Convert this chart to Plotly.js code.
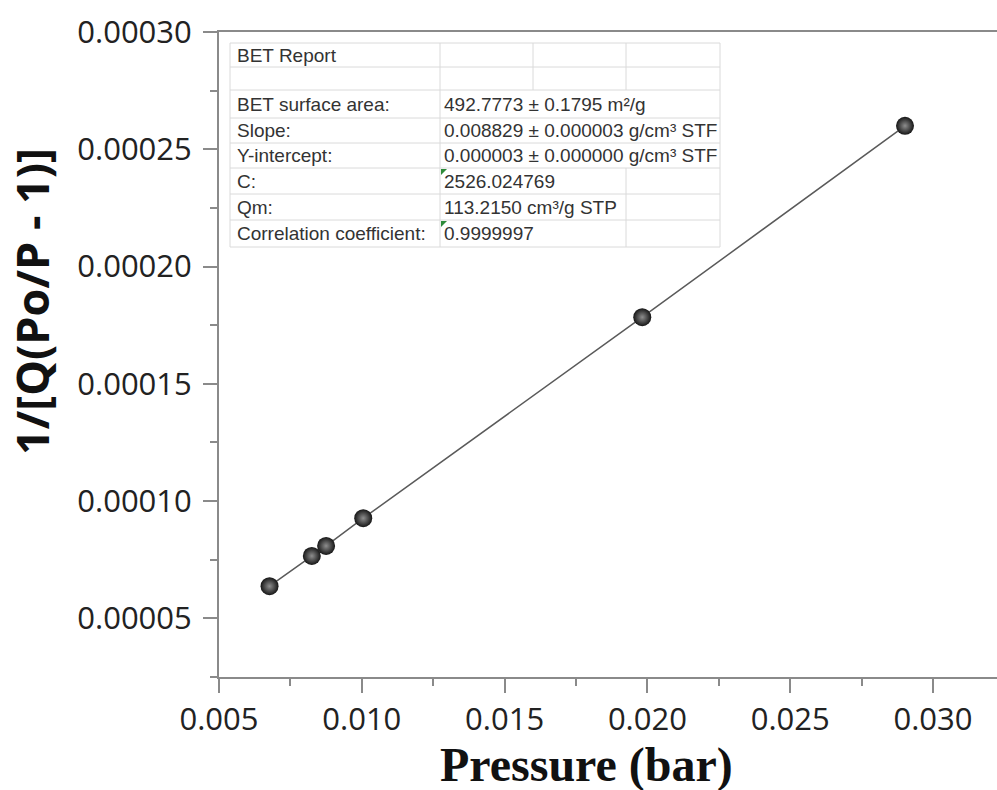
<!DOCTYPE html>
<html>
<head>
<meta charset="utf-8">
<script src="https://cdn.plot.ly/plotly-3.0.1.min.js"></script>
<style>
  html, body { margin: 0; padding: 0; background: #fff; }
  #chart { width: 997px; height: 790px; }
</style>
</head>
<body>
<div id="chart"></div>
<script>
// ---- data ----
const pressure = [0.00677, 0.00825, 0.00875, 0.01005, 0.01982, 0.02902];
const invQ     = [0.0000637, 0.0000766, 0.0000809, 0.0000927, 0.0001784, 0.0002600];

const reportLabels = ["BET Report", "", "BET surface area:", "Slope:", "Y-intercept:", "C:", "Qm:", "Correlation coefficient:"];
const reportValues = ["", "", "492.7773 ± 0.1795 m²/g", "0.008829 ± 0.000003 g/cm³ STF",
                      "0.000003 ± 0.000000 g/cm³ STF", "2526.024769", "113.2150 cm³/g STP", "0.9999997"];
const greenFlagRows = [5, 7];

const xTitle = "Pressure (bar)";
const yTitle = "1/[Q(Po/P - 1)]";

// ---- layout geometry (pixels) ----
const W = 997, H = 790;
const mL = 219, mR = 0, mT = 32, mB = 113;
const plotW = W - mL - mR, plotH = H - mT - mB;
const px = x => (x - mL) / plotW;
const py = y => (H - mB - y) / plotH;

const axisColor = '#8a8a8a';

const traces = [{
  x: pressure, y: invQ,
  type: 'scatter', mode: 'lines+markers',
  line: { color: '#5a5a5a', width: 1.5 },
  marker: { size: 18, color: '#151515',
            gradient: { type: 'radial', color: '#8e8e8e' },
            line: { width: 0 } },
  hoverinfo: 'x+y', showlegend: false
}];

// table geometry
const colX = [230, 440, 533, 626, 720];
const rowY = [43, 67, 90, 118, 143, 168, 194, 220, 247];
const gridColor = '#dadada';
const shapes = [];
shapes.push({ type: 'rect', xref: 'paper', yref: 'paper', x0: px(colX[0]), x1: px(colX[4]),
              y0: py(rowY[0]), y1: py(rowY[8]), fillcolor: '#ffffff', line: { width: 0 }, layer: 'above' });
rowY.forEach(y => shapes.push({ type: 'line', xref: 'paper', yref: 'paper',
  x0: px(colX[0]), x1: px(colX[4]), y0: py(y), y1: py(y), line: { color: gridColor, width: 1 }, layer: 'above' }));
[[colX[0], rowY[0], rowY[8]], [colX[1], rowY[0], rowY[8]], [colX[4], rowY[0], rowY[8]],
 [colX[2], rowY[0], rowY[2]], [colX[3], rowY[0], rowY[2]], [colX[3], rowY[5], rowY[8]]]
 .forEach(([x, y0, y1]) => shapes.push({ type: 'line', xref: 'paper', yref: 'paper',
   x0: px(x), x1: px(x), y0: py(y0), y1: py(y1), line: { color: gridColor, width: 1 }, layer: 'above' }));
// green indicator triangles
greenFlagRows.forEach(r => {
  const x0 = colX[1] + 1, y0 = rowY[r] + 1;
  shapes.push({ type: 'path', xref: 'paper', yref: 'paper',
    path: `M ${px(x0)} ${py(y0)} L ${px(x0 + 6)} ${py(y0)} L ${px(x0)} ${py(y0 + 6)} Z`,
    fillcolor: '#2e8b3a', line: { width: 0 }, layer: 'above' });
});

const annotations = [];
const tFont = { family: 'Liberation Sans, Arial, sans-serif', size: 19, color: '#333333' };
reportLabels.forEach((t, i) => {
  const yc = (rowY[i] + rowY[i + 1]) / 2;
  if (t) annotations.push({ xref: 'paper', yref: 'paper', x: px(235), y: py(yc), text: t,
    xanchor: 'left', yanchor: 'middle', showarrow: false, font: tFont });
  if (reportValues[i]) annotations.push({ xref: 'paper', yref: 'paper', x: px(442), y: py(yc), text: reportValues[i],
    xanchor: 'left', yanchor: 'middle', showarrow: false, font: tFont });
});
// axis titles
annotations.push({ xref: 'paper', yref: 'paper', x: px(586), y: py(765), text: '<b>' + xTitle + '</b>',
  xanchor: 'center', yanchor: 'middle', showarrow: false,
  font: { family: 'Liberation Serif, Times New Roman, serif', size: 48, color: '#111' } });
annotations.push({ xref: 'paper', yref: 'paper', x: px(31), y: py(302), text: '<b>' + yTitle + '</b>',
  xanchor: 'center', yanchor: 'middle', textangle: -90, showarrow: false,
  font: { family: 'Open Sans, sans-serif', size: 45, color: '#111' } });

const tickFont = { family: 'Open Sans, sans-serif', size: 31, color: '#222' };

const layout = {
  width: W, height: H,
  margin: { l: mL, r: mR, t: mT, b: mB, pad: 0 },
  paper_bgcolor: '#ffffff', plot_bgcolor: '#ffffff',
  showlegend: false,
  xaxis: {
    range: [0.005, 0.005 + plotW / 142.8 * 0.005],
    tick0: 0.005, dtick: 0.005, tickformat: '.3f',
    ticks: 'outside', ticklen: 14, tickwidth: 2, tickcolor: axisColor,
    showline: true, linecolor: axisColor, linewidth: 2, mirror: true,
    showgrid: false, zeroline: false, tickfont: tickFont, ticklabelstandoff: 0,
    minor: { dtick: 0.0025, tick0: 0.005, ticks: 'outside', ticklen: 7, tickwidth: 2, tickcolor: axisColor, showgrid: false }
  },
  yaxis: {
    range: [0.000025, 0.0003],
    tick0: 0, dtick: 0.00005, tickformat: '.5f',
    ticks: 'outside', ticklen: 14, tickwidth: 2, tickcolor: axisColor,
    showline: true, linecolor: axisColor, linewidth: 2, mirror: false,
    showgrid: false, zeroline: false, tickfont: tickFont, ticklabelstandoff: 5,
    minor: { dtick: 0.000025, tick0: 0, ticks: 'outside', ticklen: 7, tickwidth: 2, tickcolor: axisColor, showgrid: false }
  },
  shapes: shapes,
  annotations: annotations
};

Plotly.newPlot('chart', traces, layout, { displayModeBar: false, staticPlot: true });
</script>
</body>
</html>
